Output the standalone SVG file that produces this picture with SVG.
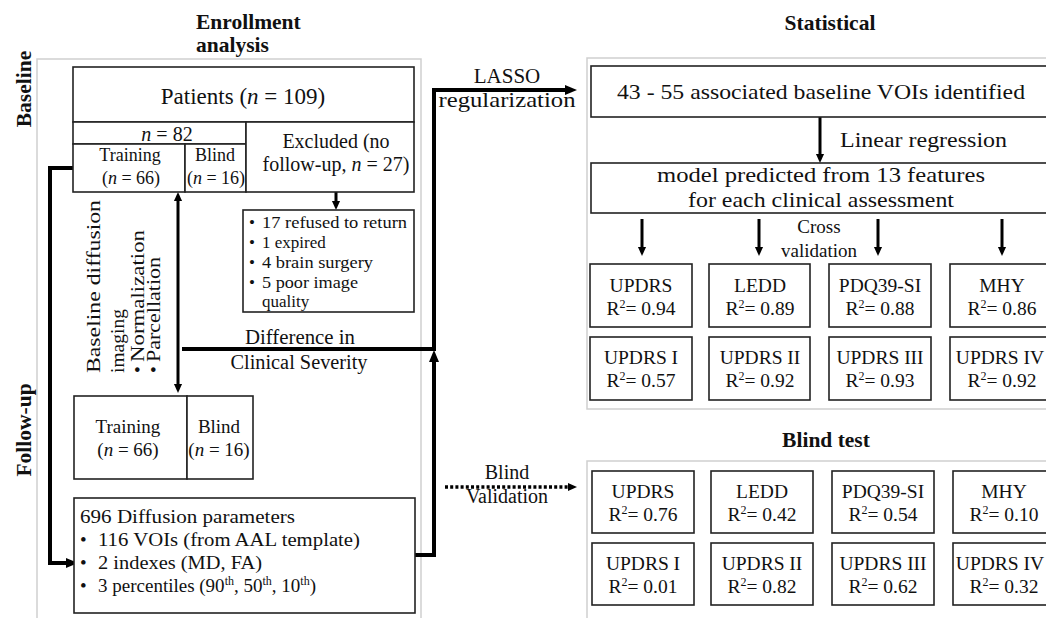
<svg xmlns="http://www.w3.org/2000/svg" width="1046" height="618" viewBox="0 0 1046 618">
<defs>
<style>
text{font-family:"Liberation Serif","Times New Roman",serif;fill:#111;}
.t{font-weight:bold;font-size:21.5px;}
.panel{fill:none;stroke:#cfcfcf;stroke-width:1.5;}
.box{fill:#fff;stroke:#222;stroke-width:1.6;}
.c{text-anchor:middle;}
.thick{fill:none;stroke:#000;stroke-width:4;}
.med{fill:none;stroke:#000;stroke-width:3;}
.b{font-size:19.5px;}
.sup{font-size:12px;}
</style>
<marker id="ah" viewBox="0 0 12 12" refX="0" refY="6" markerUnits="userSpaceOnUse" markerWidth="12" markerHeight="12" orient="auto-start-reverse"><path d="M0,1 L12,6 L0,11 z" fill="#000"/></marker>
<marker id="as" viewBox="0 0 10 10" refX="0" refY="5" markerUnits="userSpaceOnUse" markerWidth="9" markerHeight="10" orient="auto-start-reverse"><path d="M0,0.5 L10,5 L0,9.5 z" fill="#000"/></marker>
</defs>
<rect width="1046" height="618" fill="#fff"/>

<!-- panels -->
<rect class="panel" x="37" y="59" width="384" height="570"/>
<rect class="panel" x="587" y="58" width="480" height="351"/>
<rect class="panel" x="587" y="461" width="480" height="170"/>

<!-- titles -->
<text class="t" x="196" y="29">Enrollment</text>
<text class="t" x="196" y="52">analysis</text>
<text class="t c" x="830" y="30">Statistical</text>
<text class="t c" x="826" y="447">Blind test</text>
<text class="t c" transform="translate(31,89) rotate(-90)" font-size="22">Baseline</text>
<text class="t c" transform="translate(31,430) rotate(-90)" font-size="22">Follow-up</text>

<!-- connectors -->
<g id="connectors">
<path class="thick" d="M73,168 H50 V563 H66" marker-end="url(#ah)"/>
<path class="thick" d="M415,555 H434 V362" marker-end="url(#ah)"/>
<path class="thick" d="M182,349 H434 V90 H565" marker-end="url(#ah)"/>
<path class="med" d="M178,201 V384" marker-start="url(#as)" marker-end="url(#as)"/>
<path class="med" d="M336,192 V201" marker-end="url(#as)"/>
<path class="med" d="M820,117 V154" marker-end="url(#as)"/>
<path class="med" d="M642,219 V247" marker-end="url(#as)"/>
<path class="med" d="M759,219 V247" marker-end="url(#as)"/>
<path class="med" d="M878,219 V247" marker-end="url(#as)"/>
<path class="med" d="M1002,219 V247" marker-end="url(#as)"/>
<path d="M445,487 H568" fill="none" stroke="#000" stroke-width="3.5" stroke-dasharray="3,2.2" marker-end="url(#as)"/>
</g>

<!-- connector labels -->
<text class="c" x="507" y="83" font-size="21">LASSO</text>
<text class="c" x="507" y="107" font-size="21" textLength="137" lengthAdjust="spacingAndGlyphs">regularization</text>
<text class="c" x="300" y="344" font-size="20" textLength="110" lengthAdjust="spacingAndGlyphs">Difference in</text>
<text class="c" x="299" y="369" font-size="20" textLength="137" lengthAdjust="spacingAndGlyphs">Clinical Severity</text>
<text x="840" y="147" font-size="21" textLength="167" lengthAdjust="spacingAndGlyphs">Linear regression</text>
<text class="c" x="819" y="233" font-size="19">Cross</text>
<text class="c" x="819" y="257" font-size="19">validation</text>
<text class="c" x="507" y="479" font-size="20">Blind</text>
<text class="c" x="507" y="503" font-size="20">Validation</text>
<g font-size="19.5">
<text transform="translate(100,373) rotate(-90)" textLength="173" lengthAdjust="spacingAndGlyphs">Baseline diffusion</text>
<text transform="translate(124,373) rotate(-90)">imaging</text>
<text transform="translate(144,373) rotate(-90)">•</text>
<text transform="translate(144,362) rotate(-90)" textLength="132" lengthAdjust="spacingAndGlyphs">Normalization</text>
<text transform="translate(160,373) rotate(-90)">•</text>
<text transform="translate(160,362) rotate(-90)" textLength="105" lengthAdjust="spacingAndGlyphs">Parcellation</text>
</g>

<!-- enrollment nodes -->
<g id="patients">
<rect class="box" x="73" y="67" width="341" height="55"/>
<text class="c" x="243" y="104" font-size="23">Patients (<tspan font-style="italic">n</tspan> = 109)</text>
</g>
<g id="n82">
<rect class="box" x="73" y="122" width="173" height="22"/>
<text class="c" x="167" y="141" font-size="20"><tspan font-style="italic">n</tspan> = 82</text>
</g>
<g id="training1">
<rect class="box" x="73" y="144" width="112" height="48"/>
<text class="c" x="130" y="161" font-size="18">Training</text>
<text class="c" x="131" y="184" font-size="18">(<tspan font-style="italic">n</tspan> = 66)</text>
</g>
<g id="blind1">
<rect class="box" x="185" y="144" width="61" height="48"/>
<text class="c" x="215" y="161" font-size="18">Blind</text>
<text class="c" x="216" y="184" font-size="18">(<tspan font-style="italic">n</tspan> = 16)</text>
</g>
<g id="excluded">
<rect class="box" x="246" y="122" width="168" height="70"/>
<text class="c" x="336" y="148" font-size="20">Excluded (no</text>
<text class="c" x="336" y="171" font-size="20">follow-up, <tspan font-style="italic">n</tspan> = 27)</text>
</g>
<g id="reasons" font-size="17">
<rect class="box" x="243" y="210" width="171" height="102"/>
<text x="249" y="228">•</text><text x="262" y="228" textLength="145" lengthAdjust="spacingAndGlyphs">17 refused to return</text>
<text x="249" y="248">•</text><text x="262" y="248">1 expired</text>
<text x="249" y="268">•</text><text x="262" y="268" textLength="111" lengthAdjust="spacingAndGlyphs">4 brain surgery</text>
<text x="249" y="288">•</text><text x="262" y="288" textLength="96" lengthAdjust="spacingAndGlyphs">5 poor image</text>
<text x="262" y="307">quality</text>
</g>
<g id="training2">
<rect class="box" x="74" y="396" width="113" height="83"/>
<text class="c" x="128" y="433" font-size="19">Training</text>
<text class="c" x="128" y="456" font-size="19">(<tspan font-style="italic">n</tspan> = 66)</text>
</g>
<g id="blind2">
<rect class="box" x="187" y="396" width="66" height="83"/>
<text class="c" x="219" y="433" font-size="19">Blind</text>
<text class="c" x="219" y="456" font-size="19">(<tspan font-style="italic">n</tspan> = 16)</text>
</g>
<g id="params" font-size="19">
<rect class="box" x="74" y="498" width="341" height="115"/>
<text x="80" y="523" textLength="215" lengthAdjust="spacingAndGlyphs">696 Diffusion parameters</text>
<text x="80" y="546">•</text><text x="98" y="546" textLength="262" lengthAdjust="spacingAndGlyphs">116 VOIs (from AAL template)</text>
<text x="80" y="569">•</text><text x="98" y="569" textLength="164" lengthAdjust="spacingAndGlyphs">2 indexes (MD, FA)</text>
<text x="80" y="592">•</text><text x="98" y="592">3 percentiles (90<tspan class="sup" dy="-7">th</tspan><tspan dy="7">, 50</tspan><tspan class="sup" dy="-7">th</tspan><tspan dy="7">, 10</tspan><tspan class="sup" dy="-7">th</tspan><tspan dy="7">)</tspan></text>
</g>

<!-- statistical nodes -->
<g id="vois">
<rect class="box" x="591" y="66" width="470" height="51"/>
<text class="c" x="821" y="99" font-size="21" textLength="408" lengthAdjust="spacingAndGlyphs">43 - 55 associated baseline VOIs identified</text>
</g>
<g id="model">
<rect class="box" x="591" y="163" width="470" height="50"/>
<text class="c" x="821" y="182" font-size="21" textLength="328" lengthAdjust="spacingAndGlyphs">model predicted  from 13 features</text>
<text class="c" x="821" y="207" font-size="21" textLength="266" lengthAdjust="spacingAndGlyphs">for each clinical assessment</text>
</g>

<g class="b">
<g id="cv-updrs"><rect class="box" x="590" y="264" width="102" height="63"/><text class="c" x="641" y="292">UPDRS</text><text class="c" x="641" y="315">R<tspan class="sup" dy="-7">2</tspan><tspan dy="7">= 0.94</tspan></text></g>
<g id="cv-ledd"><rect class="box" x="709" y="264" width="101" height="63"/><text class="c" x="760" y="292">LEDD</text><text class="c" x="760" y="315">R<tspan class="sup" dy="-7">2</tspan><tspan dy="7">= 0.89</tspan></text></g>
<g id="cv-pdq"><rect class="box" x="829" y="264" width="102" height="63"/><text class="c" x="880" y="292">PDQ39-SI</text><text class="c" x="880" y="315">R<tspan class="sup" dy="-7">2</tspan><tspan dy="7">= 0.88</tspan></text></g>
<g id="cv-mhy"><rect class="box" x="950" y="264" width="102" height="63"/><text class="c" x="1002" y="292">MHY</text><text class="c" x="1002" y="315">R<tspan class="sup" dy="-7">2</tspan><tspan dy="7">= 0.86</tspan></text></g>
<g id="cv-updrs1"><rect class="box" x="590" y="337" width="102" height="63"/><text class="c" x="641" y="364">UPDRS I</text><text class="c" x="641" y="387">R<tspan class="sup" dy="-7">2</tspan><tspan dy="7">= 0.57</tspan></text></g>
<g id="cv-updrs2"><rect class="box" x="709" y="337" width="101" height="63"/><text class="c" x="760" y="364">UPDRS II</text><text class="c" x="760" y="387">R<tspan class="sup" dy="-7">2</tspan><tspan dy="7">= 0.92</tspan></text></g>
<g id="cv-updrs3"><rect class="box" x="829" y="337" width="102" height="63"/><text class="c" x="880" y="364">UPDRS III</text><text class="c" x="880" y="387">R<tspan class="sup" dy="-7">2</tspan><tspan dy="7">= 0.93</tspan></text></g>
<g id="cv-updrs4"><rect class="box" x="950" y="337" width="102" height="63"/><text class="c" x="1000" y="364">UPDRS IV</text><text class="c" x="1002" y="387">R<tspan class="sup" dy="-7">2</tspan><tspan dy="7">= 0.92</tspan></text></g>

<g id="bt-updrs"><rect class="box" x="592" y="471" width="102" height="62"/><text class="c" x="643" y="498">UPDRS</text><text class="c" x="643" y="521">R<tspan class="sup" dy="-7">2</tspan><tspan dy="7">= 0.76</tspan></text></g>
<g id="bt-ledd"><rect class="box" x="711" y="471" width="102" height="62"/><text class="c" x="762" y="498">LEDD</text><text class="c" x="762" y="521">R<tspan class="sup" dy="-7">2</tspan><tspan dy="7">= 0.42</tspan></text></g>
<g id="bt-pdq"><rect class="box" x="832" y="471" width="102" height="62"/><text class="c" x="883" y="498">PDQ39-SI</text><text class="c" x="883" y="521">R<tspan class="sup" dy="-7">2</tspan><tspan dy="7">= 0.54</tspan></text></g>
<g id="bt-mhy"><rect class="box" x="953" y="471" width="102" height="62"/><text class="c" x="1004" y="498">MHY</text><text class="c" x="1004" y="521">R<tspan class="sup" dy="-7">2</tspan><tspan dy="7">= 0.10</tspan></text></g>
<g id="bt-updrs1"><rect class="box" x="592" y="543" width="102" height="62"/><text class="c" x="643" y="570">UPDRS I</text><text class="c" x="643" y="593">R<tspan class="sup" dy="-7">2</tspan><tspan dy="7">= 0.01</tspan></text></g>
<g id="bt-updrs2"><rect class="box" x="711" y="543" width="102" height="62"/><text class="c" x="762" y="570">UPDRS II</text><text class="c" x="762" y="593">R<tspan class="sup" dy="-7">2</tspan><tspan dy="7">= 0.82</tspan></text></g>
<g id="bt-updrs3"><rect class="box" x="832" y="543" width="102" height="62"/><text class="c" x="883" y="570">UPDRS III</text><text class="c" x="883" y="593">R<tspan class="sup" dy="-7">2</tspan><tspan dy="7">= 0.62</tspan></text></g>
<g id="bt-updrs4"><rect class="box" x="953" y="543" width="102" height="62"/><text class="c" x="1000" y="570">UPDRS IV</text><text class="c" x="1004" y="593">R<tspan class="sup" dy="-7">2</tspan><tspan dy="7">= 0.32</tspan></text></g>
</g>
</svg>
